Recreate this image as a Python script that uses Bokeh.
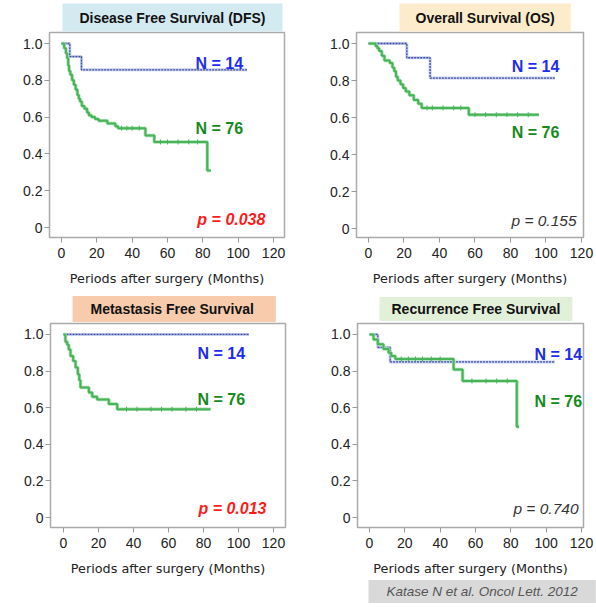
from bokeh.plotting import figure
from bokeh.layouts import column, row
from bokeh.models import FixedTicker, Label, Title
from bokeh.embed import file_html
from bokeh.resources import INLINE
import math

FONT = "Liberation Sans"
AXFONT = "DejaVu Sans"

# ---------------- data ----------------
x_ticks = [0, 20, 40, 60, 80, 100, 120]
y_ticks = [0, 0.2, 0.4, 0.6, 0.8, 1.0]
y_tick_labels = ["0", "0.2", "0.4", "0.6", "0.8", "1.0"]
x_axis_label = "Periods after surgery (Months)"

# Disease Free Survival
dfs_n14_t = [0, 4.7, 11.3, 105]
dfs_n14_s = [1.0, 0.929, 0.857, 0.857]
dfs_n76_t = [0, 1.5, 2.5, 3.2, 3.8, 4.3, 5.0, 6.0, 7.0, 8.0, 9.0, 9.8, 10.5, 11.5, 13.0,
             14.5, 15.5, 17.0, 19.0, 21.0, 26.0, 30.5, 32.0, 47.5, 52.5, 82.5, 84.5]
dfs_n76_s = [1.0, 0.974, 0.947, 0.92, 0.88, 0.85, 0.83, 0.80, 0.776, 0.75, 0.72, 0.70, 0.685,
             0.66, 0.645, 0.625, 0.61, 0.60, 0.59, 0.58, 0.565, 0.55, 0.54, 0.50, 0.465, 0.31, 0.31]
dfs_n76_censor = [34, 37, 40, 44, 56, 60, 66, 72, 77]

# Overall Survival
os_n14_t = [0, 21.6, 34.7, 105]
os_n14_s = [1.0, 0.923, 0.813, 0.813]
os_n76_t = [0, 4, 5, 6, 7.5, 9, 12, 13.5, 14.5, 15.5, 16.5, 18, 19.5, 21, 23, 25.5, 28, 30, 56.5, 96]
os_n76_s = [1.0, 0.987, 0.974, 0.96, 0.934, 0.908, 0.895, 0.87, 0.85, 0.82, 0.80, 0.78, 0.76,
            0.74, 0.72, 0.695, 0.675, 0.652, 0.615, 0.615]
os_n76_censor = [33, 36, 42, 48, 52, 60, 66, 72, 78, 84, 90]

# Metastasis Free Survival
mfs_n14_t = [0, 106]
mfs_n14_s = [1.0, 1.0]
mfs_n76_t = [0, 1.1, 2.1, 3.0, 4.0, 5.5, 6.9, 8.2, 9.0, 9.7, 14.5, 16.4, 19.2, 25.9, 30.7, 84]
mfs_n76_s = [1.0, 0.96, 0.944, 0.918, 0.882, 0.855, 0.819, 0.783, 0.75, 0.71, 0.683, 0.66,
             0.645, 0.62, 0.592, 0.592]
mfs_n76_censor = [36, 42, 50, 56, 62, 70, 76]

# Recurrence Free Survival
rfs_n14_t = [0, 4.7, 11.7, 105]
rfs_n14_s = [1.0, 0.929, 0.85, 0.85]
rfs_n76_t = [0, 2.3, 4.7, 7.9, 10.8, 12.3, 14.6, 47.6, 52.7, 83.4, 84.7]
rfs_n76_s = [1.0, 0.973, 0.946, 0.92, 0.9, 0.882, 0.866, 0.808, 0.746, 0.496, 0.496]
rfs_n76_censor = [18, 22, 26, 30, 35, 40, 58, 66, 72, 78]

titles = ["Disease Free Survival (DFS)", "Overall Survival (OS)",
          "Metastasis  Free Survival", "Recurrence Free Survival"]
p_values = ["p = 0.038", "p = 0.155", "p = 0.013", "p = 0.740"]
n_labels = ["N = 14", "N = 76"]
citation = "Katase N et al. Oncol Lett. 2012"

BLUE_TXT = "#1e2cf0"
GREEN_TXT = "#178a1c"
RED_TXT = "#ff1a1a"
GRAY_TXT = "#333333"


def surv_at(ts, ss, t):
    val = ss[0]
    for ti, si in zip(ts, ss):
        if ti <= t:
            val = si
    return val


def make_panel(w, h, mb, xr, yr, title, fill, toff, tpad, tstand,
               t14, s14, t76, s76, cens, n14_pos, n76_pos, ptext, ppos, pred):
    p = figure(width=w, height=h, x_range=xr, y_range=yr,
               output_backend="svg", toolbar_location=None,
               min_border_left=mb[0], min_border_right=mb[1],
               min_border_top=mb[2], min_border_bottom=mb[3])
    p.background_fill_color = "white"
    p.border_fill_color = "white"
    p.outline_line_color = "#aaaaaa"
    p.outline_line_width = 1.5
    p.xgrid.visible = False
    p.ygrid.visible = False

    p.title = Title(text=title, align="left", offset=toff, standoff=tstand,
                    text_font=FONT, text_font_size="14px", text_font_style="bold",
                    text_color="#111111", background_fill_color=fill,
                    padding=dict(left=tpad[0], right=tpad[0], top=tpad[1], bottom=tpad[1]))

    for ax in (p.xaxis[0], p.yaxis[0]):
        ax.axis_line_color = None
        ax.major_tick_line_color = "#999999"
        ax.major_tick_line_width = 1
        ax.major_tick_out = 5
        ax.major_tick_in = 0
        ax.minor_tick_line_color = None
        ax.major_label_text_font = FONT
        ax.major_label_text_font_size = "14px"
        ax.major_label_text_color = "#222222"
    p.xaxis.ticker = FixedTicker(ticks=x_ticks)
    p.yaxis.ticker = FixedTicker(ticks=y_ticks)
    p.yaxis.major_label_overrides = {t: l for t, l in zip(y_ticks, y_tick_labels)}
    p.xaxis.major_label_standoff = 5
    p.yaxis.major_label_standoff = 2
    p.xaxis.axis_label = x_axis_label
    p.xaxis.axis_label_text_font = AXFONT
    p.xaxis.axis_label_text_font_size = "12.8px"
    p.xaxis.axis_label_text_font_style = "normal"
    p.xaxis.axis_label_text_color = "#222222"
    p.xaxis.axis_label_standoff = 10

    # curves
    p.step(t14, s14, mode="after", line_color="#c6cdea", line_width=3)
    p.step(t14, s14, mode="after", line_color="#3a4ca3", line_width=1.3, line_dash="2 1")
    p.step(t76, s76, mode="after", line_color="#a9ddb2", line_width=3.5)
    p.step(t76, s76, mode="after", line_color="#46b457", line_width=2)
    cs = [surv_at(t76, s76, c) for c in cens]
    p.scatter(cens, cs, marker="dash", angle=math.pi / 2, size=5,
              line_color="#46b457", line_width=1)

    p.add_layout(Label(x=n14_pos[0], y=n14_pos[1], text=n_labels[0], text_font=FONT,
                       text_font_size="16px", text_font_style="bold", text_color=BLUE_TXT,
                       text_baseline="middle"))
    p.add_layout(Label(x=n76_pos[0], y=n76_pos[1], text=n_labels[1], text_font=FONT,
                       text_font_size="16px", text_font_style="bold", text_color=GREEN_TXT,
                       text_baseline="middle"))
    p.add_layout(Label(x=ppos[0], y=ppos[1], text=ptext, text_font=FONT,
                       text_font_size="16px" if pred else "15.5px",
                       text_font_style="bold italic" if pred else "italic",
                       text_color=RED_TXT if pred else GRAY_TXT,
                       text_align="right", text_baseline="middle"))
    return p


p1 = make_panel(298, 290, (49, 14, 32, 53), (-6.79, 126.2), (-0.0543, 1.0598),
                titles[0], "#d4eaf1", 13, (17, 6), 2,
                dfs_n14_t, dfs_n14_s, dfs_n76_t, dfs_n76_s, dfs_n76_censor,
                (75.8, 0.893), (75.8, 0.536), p_values[0], (115.4, 0.043), True)
p2 = make_panel(298, 290, (58, 13, 32, 53), (-6.76, 121.13), (-0.0486, 1.0595),
                titles[1], "#fdeccb", 43, (16, 6), 2,
                os_n14_t, os_n14_s, os_n76_t, os_n76_s, os_n76_censor,
                (80.7, 0.877), (80.7, 0.52), p_values[1], (117.2, 0.043), False)
p3 = make_panel(298, 316, (50, 13, 32, 79), (-7.43, 126.86), (-0.0543, 1.0598),
                titles[2], "#f8cbad", 22, (18, 5), 3,
                mfs_n14_t, mfs_n14_s, mfs_n76_t, mfs_n76_s, mfs_n76_censor,
                (76.6, 0.895), (76.6, 0.645), p_values[2], (116.0, 0.047), True)
p4 = make_panel(298, 316, (59, 13, 33, 78), (-6.79, 121.13), (-0.0543, 1.0598),
                titles[3], "#e2efd9", 22, (12, 4), 5,
                rfs_n14_t, rfs_n14_s, rfs_n76_t, rfs_n76_s, rfs_n76_censor,
                (93.4, 0.89), (93.4, 0.632), p_values[3], (118.3, 0.047), False)

p4.add_layout(Title(text=citation, align="left", offset=11, standoff=3,
                    vertical_align="top",
                    text_font=FONT, text_font_size="13.5px", text_font_style="italic",
                    text_color="#555555", background_fill_color="#d9d9d9",
                    padding=dict(left=18, right=18, top=4, bottom=4)), "below")

layout = column(row(p1, p2), row(p3, p4))
open("out.html", "w").write(file_html(layout, INLINE))
